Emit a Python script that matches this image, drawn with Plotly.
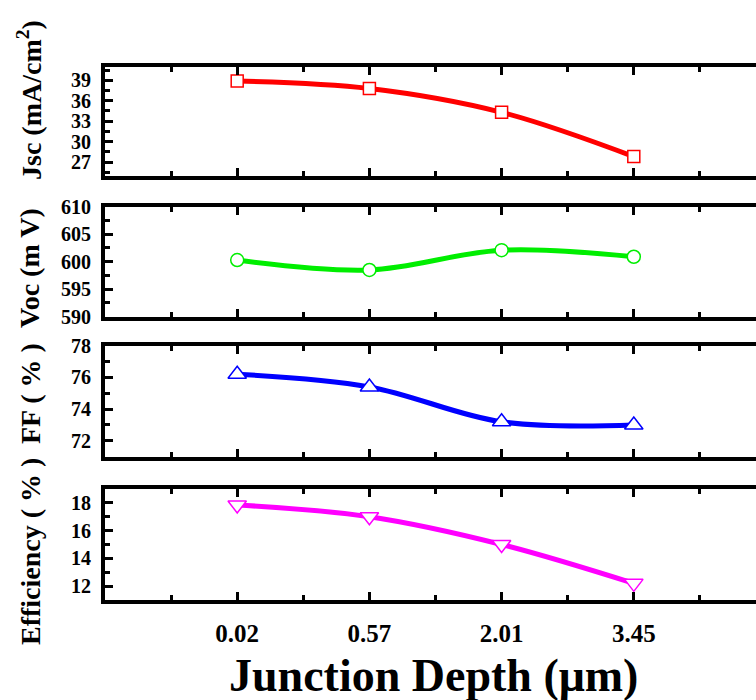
import plotly.graph_objects as go

depth_labels = ["0.02", "0.57", "2.01", "3.45"]
x_pos = [1, 2, 3, 4]
jsc = [38.9, 37.8, 34.3, 27.8]
voc = [600.3, 598.5, 602.1, 600.9]
ff = [76.2, 75.4, 73.2, 73.0]
eff = [17.85, 17.0, 15.0, 12.2]

series = [
    (jsc, "#ff0000", "square", 12, [25, 41], 3, 1.5),
    (voc, "#00ee00", "circle", 13, [590, 610], 5, 2.5),
    (ff, "#0000ff", "triangle-up", 16, [71, 78], 2, 1),
    (eff, "#ff00ff", "triangle-down", 16, [11, 19], 2, 1),
]
# panel pixel extents (top, bottom) in a 700 px tall figure
panels = [(66.7, 175.7), (206.7, 316.7), (345.7, 456.7), (489, 600)]
H = 700.0
L = 105
W = 768
R = 2
PW = W - L - R

FONT = "Liberation Serif"
fig = go.Figure()
layout = dict(
    width=W, height=700,
    margin=dict(l=L, r=R, t=0, b=0),
    paper_bgcolor="white", plot_bgcolor="white",
    showlegend=False,
)

for i, ((vals, col, sym, msize, yr, dt, mdt), (pt, pb)) in enumerate(zip(series, panels), start=1):
    xa = "x" if i == 1 else f"x{i}"
    ya = "y" if i == 1 else f"y{i}"
    fig.add_trace(go.Scatter(
        x=x_pos, y=vals, xaxis=xa, yaxis=ya,
        mode="lines+markers",
        line=dict(color=col, width=5, shape="spline", smoothing=1.0),
        marker=dict(symbol=sym, size=msize, color="white",
                    line=dict(color=col, width=1.5)),
        cliponaxis=False,
    ))
    layout[f"xaxis{'' if i == 1 else i}"] = dict(
        domain=[0, 1], anchor=ya, range=[0, 5],
        showline=True, linewidth=4, linecolor="black", mirror="ticks",
        ticks="inside", ticklen=8, tickwidth=3, tickcolor="black",
        tickmode="array", tickvals=x_pos, ticktext=depth_labels,
        showticklabels=(i == 4),
        tickfont=dict(family=FONT, size=25, color="black", weight="bold"),
        ticklabelstandoff=8,
        minor=dict(tickvals=[0.5, 1.5, 2.5, 3.5, 4.5], ticklen=5, tickwidth=3,
                   tickcolor="black", ticks="inside"),
        showgrid=False, zeroline=False, automargin=False,
    )
    layout[f"yaxis{'' if i == 1 else i}"] = dict(
        domain=[1 - pb / H, 1 - pt / H], anchor=xa, range=yr,
        showline=True, linewidth=4, linecolor="black", mirror="ticks",
        ticks="inside", ticklen=8, tickwidth=3, tickcolor="black",
        tick0=0, dtick=dt,
        tickfont=dict(family=FONT, size=20, color="black", weight="bold"),
        ticklabelstandoff=6,
        minor=dict(tick0=0, dtick=mdt, ticklen=5, tickwidth=3,
                   tickcolor="black", ticks="inside"),
        showgrid=False, zeroline=False, automargin=False,
    )

titles = [
    ("Jsc (mA/cm<sup>2</sup>)", 100),
    ("Voc (m V)", 268),
    ("FF ( % )", 394),
    ("Efficiency ( % )", 552),
]
annotations = []
for txt, yc in titles:
    annotations.append(dict(
        text=f"<b>{txt}</b>", xref="paper", yref="paper",
        x=(30 - L) / PW, y=1 - yc / H,
        xanchor="center", yanchor="middle", textangle=-90, showarrow=False,
        font=dict(family=FONT, size=28, color="black"),
    ))
annotations.append(dict(
    text="<b>Junction Depth (\u03bcm)</b>", xref="paper", yref="paper",
    x=(433 - L) / PW, y=1 - 675 / H, xanchor="center", yanchor="middle",
    showarrow=False, font=dict(family=FONT, size=46, color="black"),
))
layout["annotations"] = annotations
fig.update_layout(**layout)

fig.write_html("out.html", post_script=[
    "document.body.style.margin='0';document.body.style.overflow='hidden';"
    "document.documentElement.style.overflow='hidden';"
])
